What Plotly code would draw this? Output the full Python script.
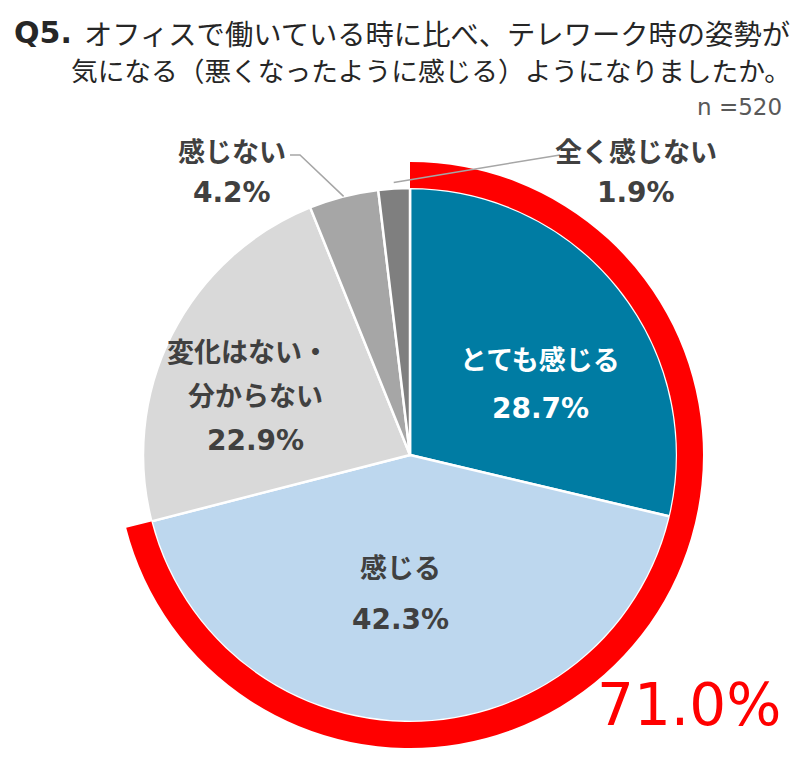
import math
import plotly.graph_objects as go

categories = ["とても感じる", "感じる", "変化はない・分からない", "感じない", "全く感じない"]
values = [28.7, 42.3, 22.9, 4.2, 1.9]
colors = ["#007CA3", "#BDD7EE", "#D9D9D9", "#A6A6A6", "#7F7F7F"]
ring_values = [71.0, 29.0]
ring_label = "71.0%"
title_q = "Q5."
title_line1 = "オフィスで働いている時に比べ、テレワーク時の姿勢が"
title_line2 = "気になる（悪くなったように感じる）ようになりましたか。"
n_label = "n =520"

OFF = 8                 # browser body margin
W, H = 800 - OFF, 781 - OFF
CX, CY = 410, 455      # pie centre in window pixels (from top-left)
R = 267                 # pie radius
R_RING = 293            # red ring outer radius


def px(x):
    return (x - OFF) / W


def py(y):
    return 1 - (y - OFF) / H


def domain(r):
    return dict(x=[px(CX - r), px(CX + r)], y=[py(CY + r), py(CY - r)])


FONT = "Noto Sans CJK JP"
NUMFONT = "DejaVu Sans"

fig = go.Figure()
fig.add_trace(go.Pie(
    labels=categories, values=values, sort=False, direction="clockwise", rotation=0,
    marker=dict(colors=colors, line=dict(color="white", width=2.5)),
    textinfo="none", hoverinfo="label+percent", domain=domain(R), showlegend=False,
))
fig.add_trace(go.Pie(
    labels=["top2", "rest"], values=ring_values, sort=False, direction="clockwise", rotation=0,
    hole=R / R_RING,
    marker=dict(colors=["#FF0000", "rgba(0,0,0,0)"], line=dict(width=0)),
    textinfo="none", hoverinfo="skip", domain=domain(R_RING), showlegend=False,
))

ann = []
dark = "#404040"


def label(x, y, text, color=dark, size=27, bold=True, anchor="center", fam=FONT):
    ann.append(dict(x=px(x), y=py(y), xref="paper", yref="paper", text=f"<b>{text}</b>" if bold else text,
                    showarrow=False, xanchor=anchor, yanchor="middle",
                    font=dict(family=fam, size=size, color=color)))


PS = 28
label(540, 358, categories[0], color="white")
label(540, 408, f"{values[0]}%", color="white", size=PS, fam=NUMFONT)
label(400, 566, categories[1])
label(400, 619, f"{values[1]}%", size=PS, fam=NUMFONT)
label(248, 350, "変化はない・")
label(255, 394, "分からない")
label(255, 440, f"{values[2]}%", size=PS, fam=NUMFONT)
label(232, 150, categories[3])
label(232, 192, f"{values[3]}%", size=PS, fam=NUMFONT)
label(636, 150, categories[4])
label(636, 192, f"{values[4]}%", size=PS, fam=NUMFONT)

# red total
label(689, 705, ring_label, color="#FF0000", size=58, bold=False, fam="DejaVu Sans")

# title
label(12, 33, title_q, color="#262626", size=30, anchor="left", fam=NUMFONT)
ann.append(dict(x=px(792), y=py(33), xref="paper", yref="paper", text=title_line1, showarrow=False,
                xanchor="right", yanchor="middle", font=dict(family=FONT, size=28.3, color="#262626")))
ann.append(dict(x=px(793), y=py(70), xref="paper", yref="paper", text=title_line2, showarrow=False,
                xanchor="right", yanchor="middle", font=dict(family=FONT, size=26.7, color="#262626")))
ann.append(dict(x=px(784), y=py(107), xref="paper", yref="paper", text=n_label, showarrow=False,
                xanchor="right", yanchor="middle", font=dict(family="DejaVu Sans", size=23, color="#595959")))

# leader lines computed from slice angles
total = sum(values)
cum = 0
mids = []
for v in values:
    mids.append((cum + v / 2) / total * 2 * math.pi)
    cum += v


def edge(angle, r):
    return CX + r * math.sin(angle), CY - r * math.cos(angle)


shapes = []
ex, ey = edge(mids[3], R)
shapes.append(dict(type="path", xref="paper", yref="paper",
                   path=f"M {px(290)} {py(155)} L {px(300)} {py(155)} L {px(ex)} {py(ey)}",
                   line=dict(color="#A6A6A6", width=1.5)))
ex, ey = edge(mids[4], R + 6)
shapes.append(dict(type="path", xref="paper", yref="paper",
                   path=f"M {px(560)} {py(155)} L {px(ex)} {py(ey)}",
                   line=dict(color="#A6A6A6", width=1.5)))

fig.update_layout(width=W, height=H, margin=dict(l=0, r=0, t=0, b=0),
                  paper_bgcolor="white", plot_bgcolor="white",
                  annotations=ann, shapes=shapes)
fig.write_html("out.html")
